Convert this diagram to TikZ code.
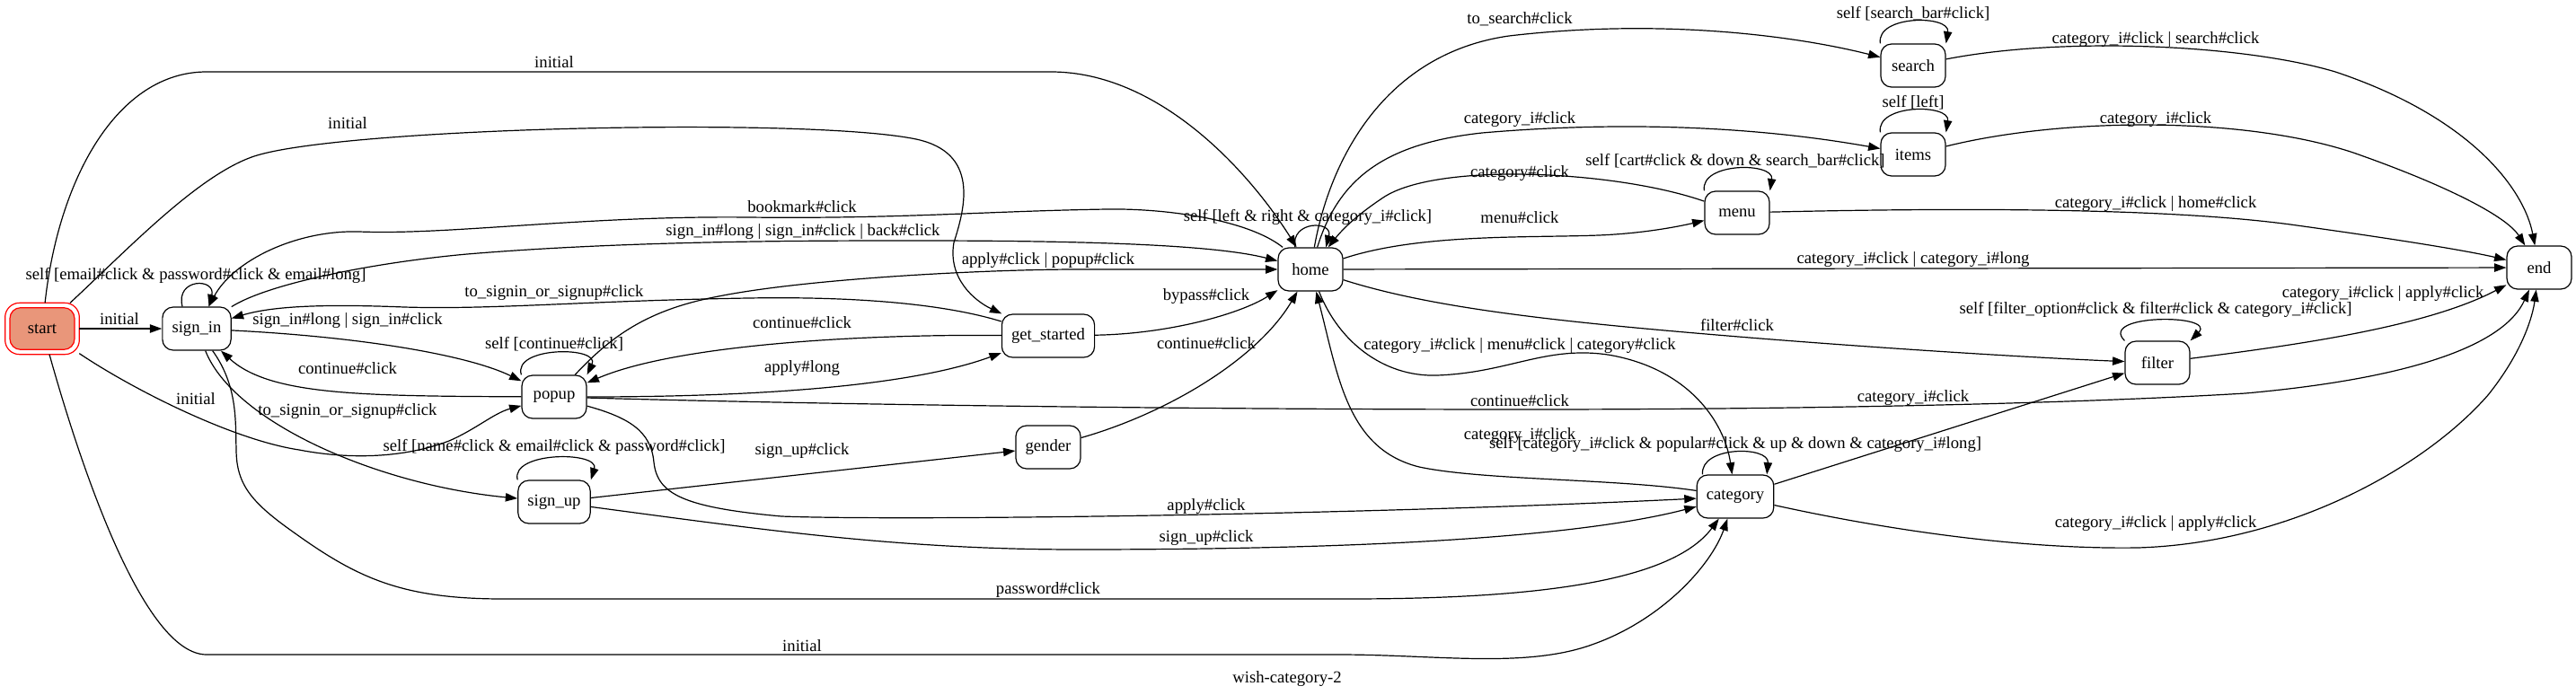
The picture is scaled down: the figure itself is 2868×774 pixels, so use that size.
\documentclass[tikz,border=0pt]{standalone}
\usepackage{fontspec}
\setmainfont{Liberation Serif}
\usetikzlibrary{arrows.meta}
\definecolor{dsalmon}{HTML}{E9967A}
\begin{document}
\begin{tikzpicture}[x=0.75pt,y=-0.75pt,
  font=\fontsize{14pt}{16pt}\selectfont,
  stt/.style={draw, line width=0.9pt, rounded corners=9pt, minimum width=54pt, minimum height=36pt, inner xsep=8pt},
  startstt/.style={stt, draw=red, fill=dsalmon, minimum height=35pt, outer sep=4pt},
  conn/.style={draw, line width=0.9pt, -{Triangle[length=10pt,width=7pt]}},
  lbl/.style={inner sep=0pt}]
\useasboundingbox (0,0) rectangle (2868,774);

% nodes
\node[startstt] (start) at (47,366) {start};
\draw[red, line width=0.9pt, rounded corners=12pt] (start.south west) rectangle (start.north east);
\node[stt] (sign_in) at (219,366) {sign\_in};
\node[stt] (popup) at (617,442) {popup};
\node[stt] (sign_up) at (617,559) {sign\_up};
\node[stt] (get_started) at (1167,374) {get\_started};
\node[stt] (gender) at (1167,498) {gender};
\node[stt] (home) at (1459,300) {home};
\node[stt] (menu) at (1934,237) {menu};
\node[stt] (category) at (1932,553) {category};
\node[stt] (search) at (2130,73) {search};
\node[stt] (items) at (2130,172) {items};
\node[stt] (filter) at (2402,404) {filter};
\node[stt] (end) at (2827,298) {end};

% edges from start
\draw[conn] (start) -- (sign_in);
\draw[conn] (start) .. controls (65,200) and (130,80) .. (230,80) -- (1170,80) .. controls (1290,80) and (1390,190) .. (home);
\draw[conn] (start) .. controls (140,280) and (220,195) .. (283,174) .. controls (380,142) and (900,130) .. (1020,155) .. controls (1090,170) and (1075,230) .. (1062,270) .. controls (1055,310) and (1085,335) .. (get_started);
\draw[conn] (start) .. controls (150,435) and (260,490) .. (333,501) .. controls (390,512) and (450,510) .. (500,491) .. controls (530,478) and (550,460) .. (popup);
\draw[conn] (start) .. controls (90,520) and (160,729) .. (230,729) -- (1490,729) .. controls (1600,729) and (1700,745) .. (1775,717) .. controls (1850,690) and (1905,630) .. (category);

% sign_in
\draw[conn] (sign_in.123) .. controls +(-8,-32) and +(8,-32) .. (sign_in.61);
\draw[conn] (sign_in) .. controls (400,375) and (520,395) .. (popup);
\draw[conn] (sign_in) .. controls (260,470) and (420,540) .. (sign_up);
\draw[conn] (sign_in) .. controls (265,430) and (262,470) .. (263,500) .. controls (263,540) and (280,560) .. (330,595) .. controls (400,645) and (450,667) .. (560,667) -- (1500,667) .. controls (1700,667) and (1860,650) .. (category);
\draw[conn] (sign_in) .. controls (300,315) and (420,292) .. (520,283) .. controls (700,268) and (900,268) .. (1020,268) .. controls (1200,268) and (1350,272) .. (home);

% popup
\draw[conn] (popup) .. controls (400,441) and (300,440) .. (sign_in);
\draw[conn] (popup.north west) .. controls +(-10,-32) and +(15,-32) .. (popup.north east);
\draw[conn] (popup) .. controls (680,375) and (720,345) .. (800,330) .. controls (900,310) and (1100,300) .. (1200,300) -- (home);
\draw[conn] (popup) .. controls (800,442) and (1000,435) .. (get_started);
\draw[conn] (popup) .. controls (900,450) and (1300,456) .. (1700,456) .. controls (2000,456) and (2300,450) .. (2500,438) .. controls (2700,420) and (2790,380) .. (end);
\draw[conn] (popup) .. controls (700,465) and (725,480) .. (728,515) .. controls (732,550) and (760,565) .. (870,575) .. controls (1000,580) and (1500,574) .. (category);

% sign_up
\draw[conn] (sign_up.north west) .. controls +(-8,-32) and +(10,-32) .. (sign_up.north east);
\draw[conn] (sign_up) -- (gender);
\draw[conn] (sign_up) .. controls (850,590) and (1000,612) .. (1200,612) .. controls (1500,612) and (1750,600) .. (category);

% get_started, gender
\draw[conn] (get_started) .. controls (1050,338) and (950,330) .. (833,332) .. controls (650,335) and (550,345) .. (450,342) .. controls (350,338) and (300,342) .. (sign_in);
\draw[conn] (get_started) .. controls (950,372) and (750,385) .. (popup);
\draw[conn] (get_started) .. controls (1300,372) and (1380,350) .. (home);
\draw[conn] (gender) .. controls (1300,460) and (1400,400) .. (home);

% home
\draw[conn] (home) .. controls (1390,245) and (1300,232) .. (1233,233) .. controls (1100,235) and (1000,244) .. (833,242) .. controls (650,240) and (500,262) .. (400,258) .. controls (330,256) and (260,290) .. (sign_in);
\draw[conn] (home.125) .. controls +(-5,-30) and +(8,-30) .. (home.55);
\draw[conn] (home) .. controls (1480,180) and (1540,60) .. (1680,40) .. controls (1850,20) and (2000,40) .. (search);
\draw[conn] (home) .. controls (1490,200) and (1540,160) .. (1650,148) .. controls (1800,135) and (1950,140) .. (items);
\draw[conn] (home) .. controls (1580,260) and (1700,265) .. (1780,262) .. controls (1830,260) and (1870,252) .. (menu);
\draw[conn] (home) -- (end);
\draw[conn] (home) .. controls (1600,345) and (1750,360) .. (1960,377) .. controls (2150,392) and (2300,400) .. (filter);
\draw[conn] (home) .. controls (1490,380) and (1540,420) .. (1600,418) .. controls (1680,415) and (1720,385) .. (1790,395) .. controls (1880,410) and (1920,470) .. (category);

% menu
\draw[conn] (menu) .. controls (1800,190) and (1600,180) .. (1540,220) .. controls (1510,240) and (1495,255) .. (home);
\draw[conn] (menu.north west) .. controls +(-5,-32) and +(5,-32) .. (menu.north east);
\draw[conn] (menu) .. controls (2150,232) and (2400,230) .. (2550,250) .. controls (2680,268) and (2750,280) .. (end);

% search, items
\draw[conn] (search.north west) .. controls +(-5,-32) and +(5,-32) .. (search.north east);
\draw[conn] (items.north west) .. controls +(-5,-32) and +(5,-32) .. (items.north east);
\draw[conn] (search) .. controls (2300,40) and (2500,50) .. (2600,80) .. controls (2750,130) and (2810,210) .. (end);
\draw[conn] (items) .. controls (2300,130) and (2500,130) .. (2620,170) .. controls (2720,205) and (2790,240) .. (end);

% category
\draw[conn] (category) .. controls (1800,533) and (1650,535) .. (1580,520) .. controls (1500,500) and (1490,420) .. (home);
\draw[conn] (category.146) .. controls +(-3,-32) and +(3,-32) .. (category.35);
\draw[conn] (category) -- (filter);
\draw[conn] (category) .. controls (2100,590) and (2250,612) .. (2380,610) .. controls (2550,605) and (2700,520) .. (2770,440) .. controls (2810,390) and (2820,350) .. (end);

% filter
\draw[conn] (filter.north west) .. controls +(-30,-30) and +(30,-30) .. (filter.north east);
\draw[conn] (filter) .. controls (2550,385) and (2700,365) .. (end);

% labels
\node[lbl] (l1) at (133,355) {initial};
\node[lbl] (l2) at (218,444) {initial};
\node[lbl] (l3) at (617,69) {initial};
\node[lbl] (l4) at (387,137) {initial};
\node[lbl] (l5) at (893,719) {initial};
\node[lbl] (l6) at (218,307) {self [email\#click \& password\#click \& email\#long]};
\node[lbl] (l7) at (387,357) {sign\_in\#long | sign\_in\#click};
\node[lbl] (l8) at (387,410) {continue\#click};
\node[lbl] (l9) at (387,458) {to\_signin\_or\_signup\#click};
\node[lbl] (l10) at (1167,657) {password\#click};
\node[lbl] (l11) at (617,326) {to\_signin\_or\_signup\#click};
\node[lbl] (l12) at (893,230) {bookmark\#click};
\node[lbl] (l13) at (894,258) {sign\_in\#long | sign\_in\#click | back\#click};
\node[lbl] (l14) at (1167,290) {apply\#click | popup\#click};
\node[lbl] (l15) at (893,359) {continue\#click};
\node[lbl] (l16) at (893,410) {apply\#long};
\node[lbl] (l17) at (617,383) {self [continue\#click]};
\node[lbl] (l18) at (1692,446) {continue\#click};
\node[lbl] (l19) at (1343,564) {apply\#click};
\node[lbl] (l20) at (617,498) {self [name\#click \& email\#click \& password\#click]};
\node[lbl] (l21) at (893,502) {sign\_up\#click};
\node[lbl] (l22) at (1343,599) {sign\_up\#click};
\node[lbl] (l23) at (1343,330) {bypass\#click};
\node[lbl] (l24) at (1343,382) {continue\#click};
\node[lbl] (l25) at (1456,242) {self [left \& right \& category\_i\#click]};
\node[lbl] (l26) at (1692,21) {to\_search\#click};
\node[lbl] (l27) at (1692,133) {category\_i\#click};
\node[lbl] (l28) at (1692,193) {category\#click};
\node[lbl] (l29) at (1692,242) {menu\#click};
\node[lbl] (l30) at (1932,179) {self [cart\#click \& down \& search\_bar\#click]};
\node[lbl] (l31) at (2130,15) {self [search\_bar\#click]};
\node[lbl] (l32) at (2130,114) {self [left]};
\node[lbl] (l33) at (2400,44) {category\_i\#click | search\#click};
\node[lbl] (l34) at (2400,133) {category\_i\#click};
\node[lbl] (l35) at (2400,227) {category\_i\#click | home\#click};
\node[lbl] (l36) at (2130,289) {category\_i\#click | category\_i\#long};
\node[lbl] (l37) at (1934,362) {filter\#click};
\node[lbl] (l38) at (1692,385) {category\_i\#click | menu\#click | category\#click};
\node[lbl] (l39) at (1692,485) {category\_i\#click};
\node[lbl] (l40) at (1932,495) {self [category\_i\#click \& popular\#click \& up \& down \& category\_i\#long]};
\node[lbl] (l41) at (2130,443) {category\_i\#click};
\node[lbl] (l42) at (2400,583) {category\_i\#click | apply\#click};
\node[lbl] (l43) at (2653,327) {category\_i\#click | apply\#click};
\node[lbl] (l44) at (2400,345) {self [filter\_option\#click \& filter\#click \& category\_i\#click]};
\node[lbl] (cap) at (1433,756) {wish-category-2};
\end{tikzpicture}
\end{document}
